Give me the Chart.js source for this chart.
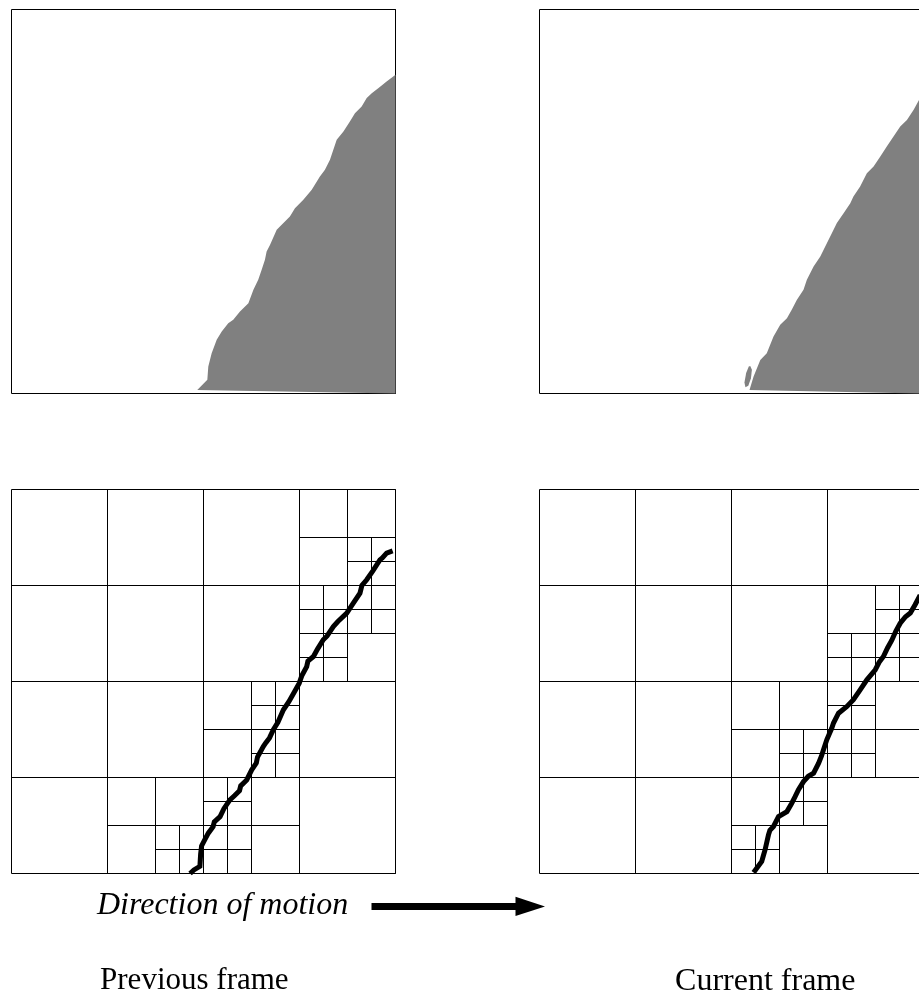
<!DOCTYPE html>
<html>
<head>
<meta charset="utf-8">
<script src="https://cdn.jsdelivr.net/npm/chart.js@4.4.1/dist/chart.umd.min.js"></script>
<style>
  html, body { margin: 0; padding: 0; background: #fff; overflow: hidden; }
  #fig { display: block; }
</style>
</head>
<body>
<canvas id="fig" width="919" height="995"></canvas>
<script>
// quadtree cells that are split, as [x, y, size] in a 16x16 frame
const prevSplits = [
  [0, 0, 16], [0, 0, 8], [8, 0, 8], [0, 8, 8], [8, 8, 8],
  [12, 0, 4], [12, 4, 4], [8, 8, 4], [4, 12, 4], [8, 12, 4],
  [14, 2, 2], [12, 4, 2], [14, 4, 2], [12, 6, 2], [10, 8, 2], [10, 10, 2],
  [6, 14, 2], [8, 12, 2], [8, 14, 2]
];
const currSplits = [
  [0, 0, 16], [0, 0, 8], [8, 0, 8], [0, 8, 8], [8, 8, 8],
  [12, 4, 4], [12, 8, 4], [8, 8, 4], [8, 12, 4],
  [14, 4, 2], [12, 6, 2], [14, 6, 2], [12, 8, 2], [12, 10, 2], [10, 10, 2],
  [10, 12, 2], [8, 14, 2]
];

// object boundary traced in each quadtree
const prevEdge = [
  [7.44, 16.0], [7.6, 15.85], [7.85, 15.7], [7.88, 15.2], [7.92, 14.85], [8.05, 14.6],
  [8.2, 14.32], [8.4, 14.05], [8.45, 13.85], [8.69, 13.63], [8.85, 13.3], [9.1, 12.93],
  [9.3, 12.75], [9.5, 12.55], [9.55, 12.35], [9.8, 12.1], [10.01, 11.68], [10.2, 11.4],
  [10.25, 11.15], [10.49, 10.71], [10.6, 10.55], [10.75, 10.35], [10.91, 10.01],
  [11.1, 9.7], [11.33, 9.18], [11.55, 8.85], [11.75, 8.5], [11.99, 8.07], [12.1, 7.75],
  [12.3, 7.38], [12.35, 7.15], [12.58, 6.96], [12.75, 6.65], [12.99, 6.26], [13.15, 6.1],
  [13.41, 5.71], [13.6, 5.5], [13.97, 5.15], [14.2, 4.8], [14.52, 4.32], [14.6, 4.0],
  [14.8, 3.76], [15.05, 3.4], [15.35, 2.93], [15.45, 2.85], [15.63, 2.65], [15.88, 2.56]
];
const currEdge = [
  [8.92, 15.96], [9.26, 15.5], [9.33, 15.25], [9.4, 15.01], [9.54, 14.39], [9.6, 14.2],
  [9.75, 14.04], [9.96, 13.63], [10.31, 13.42], [10.51, 13.07], [10.65, 12.8],
  [10.79, 12.51], [11.0, 12.17], [11.2, 11.95], [11.42, 11.82], [11.63, 11.4],
  [11.75, 11.1], [11.83, 10.85], [11.97, 10.43], [12.18, 9.94], [12.25, 9.73],
  [12.46, 9.32], [12.81, 9.04], [13.08, 8.76], [13.36, 8.35], [13.64, 7.93],
  [13.99, 7.51], [14.15, 7.2], [14.33, 6.96], [14.5, 6.6], [14.68, 6.28], [14.85, 5.9],
  [15.03, 5.57], [15.25, 5.3], [15.45, 5.15], [15.65, 4.8], [15.86, 4.4], [16.0, 4.2]
];

// grey segmented region in each frame
const prevRegion = [
  [7.74, 15.85], [8.16, 15.43], [8.2, 14.88], [8.34, 14.32], [8.55, 13.76], [8.76, 13.42],
  [9.03, 13.07], [9.24, 12.93], [9.52, 12.58], [9.87, 12.24], [10.08, 11.68], [10.28, 11.26],
  [10.42, 10.85], [10.56, 10.43], [10.63, 10.08], [10.77, 9.81], [11.05, 9.18], [11.33, 8.9],
  [11.6, 8.63], [11.81, 8.28], [12.16, 7.93], [12.51, 7.51], [12.85, 6.96], [13.06, 6.68],
  [13.27, 6.26], [13.55, 5.43], [13.83, 5.08], [14.1, 4.67], [14.31, 4.32], [14.59, 4.04],
  [14.8, 3.69], [15.01, 3.49], [15.28, 3.28], [15.63, 3.0], [16.0, 2.72],
  [16.0, 16.0], [7.74, 15.85]
];
const currRegion = [
  [8.75, 15.85], [8.92, 15.29], [9.2, 14.6], [9.47, 14.32], [9.75, 13.63], [10.03, 13.14],
  [10.31, 12.86], [10.51, 12.51], [10.72, 12.1], [11.0, 11.68], [11.14, 11.26], [11.42, 10.71],
  [11.7, 10.29], [12.04, 9.6], [12.18, 9.32], [12.39, 8.9], [12.67, 8.49], [12.95, 8.07],
  [13.08, 7.79], [13.36, 7.38], [13.64, 6.82], [13.92, 6.54], [14.2, 6.13], [14.47, 5.71],
  [14.75, 5.29], [15.03, 4.88], [15.31, 4.6], [15.59, 4.18], [15.82, 3.76], [16.0, 3.5],
  [16.0, 16.0], [8.75, 15.85]
];
const currBlob = [
  [8.78, 14.85], [8.85, 15.01], [8.81, 15.36], [8.7, 15.68], [8.58, 15.74],
  [8.54, 15.54], [8.61, 15.15], [8.72, 14.88], [8.78, 14.85]
];

const frameOutline = [[0, 0], [16, 0], [16, 16], [0, 16], [0, 0]];
const motionShaft = [[15.0, 37.37], [21.1, 37.37]];
const motionHead = [[21.0, 36.97], [22.23, 37.37], [21.0, 37.77], [21.0, 36.97]];

const motionLabel = 'Direction of motion';
const frameLabels = ['Previous frame', 'Current frame'];

// panel origins in frame units (24 px per unit)
const UNIT = 24;
const panels = { prevImg: [0, 0], currImg: [22, 0], prevTree: [0, 20], currTree: [22, 20] };

function line(points, origin, style) {
  return Object.assign({
    data: points.map(([px, py]) => ({ x: px + origin[0], y: py + origin[1] })),
    pointRadius: 0,
    borderColor: '#000',
    borderWidth: 1,
    fill: false,
    tension: 0
  }, style || {});
}

function area(points, origin) {
  return line(points, origin, { borderWidth: 0, borderColor: 'rgba(0,0,0,0)', backgroundColor: '#808080', fill: 'shape' });
}

function splitLines(splits, origin) {
  const out = [];
  splits.forEach(([x, y, s]) => {
    const h = s / 2;
    out.push(line([[x + h, y], [x + h, y + s]], origin));
    out.push(line([[x, y + h], [x + s, y + h]], origin));
  });
  return out;
}

const datasets = [
  area(prevRegion, panels.prevImg),
  area(currRegion, panels.currImg),
  area(currBlob, panels.currImg),
  line(frameOutline, panels.prevImg),
  line(frameOutline, panels.currImg),
  line(frameOutline, panels.prevTree),
  line(frameOutline, panels.currTree),
  ...splitLines(prevSplits, panels.prevTree),
  ...splitLines(currSplits, panels.currTree),
  line(prevEdge, panels.prevTree, { borderWidth: 5, borderJoinStyle: 'miter' }),
  line(currEdge, panels.currTree, { borderWidth: 5, borderJoinStyle: 'miter' }),
  line(motionShaft, [0, 0], { borderWidth: 7 }),
  line(motionHead, [0, 0], { borderWidth: 0, borderColor: 'rgba(0,0,0,0)', backgroundColor: '#000', fill: 'shape' })
];

const captions = {
  id: 'captions',
  afterDraw(chart) {
    const { ctx, scales: { x, y } } = chart;
    ctx.save();
    ctx.fillStyle = '#000';
    ctx.textBaseline = 'alphabetic';
    ctx.textAlign = 'left';
    ctx.font = 'italic 32px "Liberation Serif", "Times New Roman", serif';
    ctx.fillText(motionLabel, x.getPixelForValue(3.56), y.getPixelForValue(37.69));
    ctx.font = '31px "Liberation Serif", "Times New Roman", serif';
    ctx.fillText(frameLabels[0], x.getPixelForValue(3.69), y.getPixelForValue(40.81));
    ctx.font = '32px "Liberation Serif", "Times New Roman", serif';
    ctx.fillText(frameLabels[1], x.getPixelForValue(27.65), y.getPixelForValue(40.85));
    ctx.restore();
  }
};

const xMin = -11.5 / UNIT, yMin = -9.5 / UNIT;

new Chart(document.getElementById('fig'), {
  type: 'line',
  data: { datasets },
  options: {
    responsive: false,
    devicePixelRatio: 1,
    animation: false,
    events: [],
    layout: { padding: 0 },
    plugins: { legend: { display: false }, tooltip: { enabled: false } },
    scales: {
      x: { type: 'linear', display: false, min: xMin, max: xMin + 919 / UNIT },
      y: { type: 'linear', display: false, reverse: true, min: yMin, max: yMin + 995 / UNIT }
    }
  },
  plugins: [captions]
});
</script>
</body>
</html>
